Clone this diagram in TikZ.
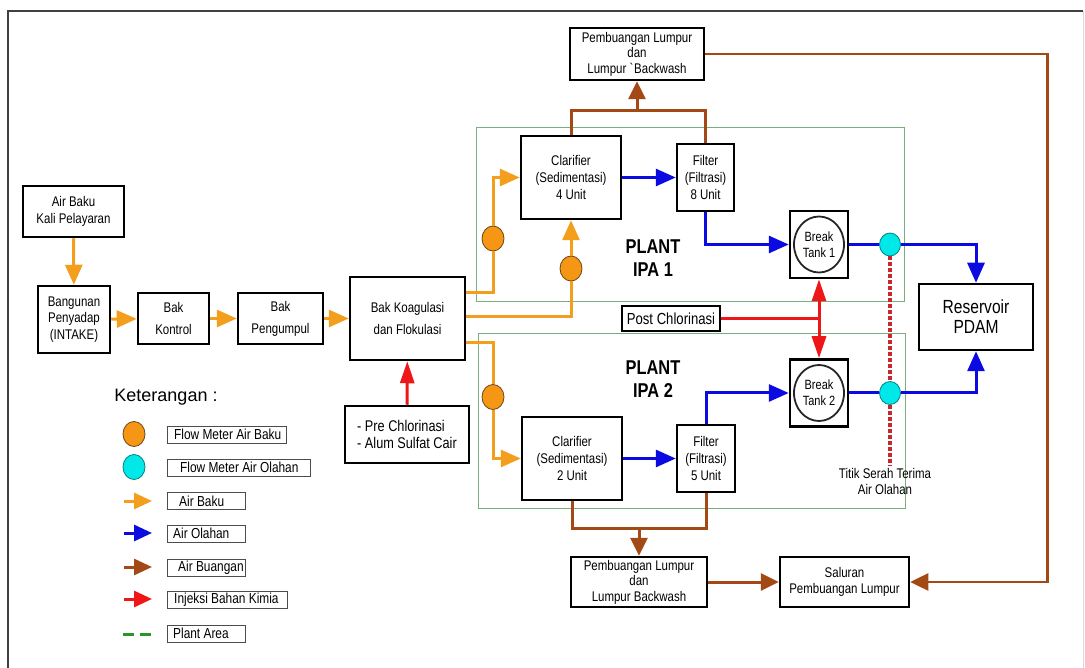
\documentclass[tikz,border=0pt]{standalone}
\usepackage{fontspec}
\setmainfont{Liberation Sans}
\newfontfamily\narrowfont{Liberation Sans}[FakeStretch=0.82]
\usetikzlibrary{positioning, arrows.meta, shapes.geometric, calc}

\definecolor{bakuc}{RGB}{243,158,28}
\definecolor{meterbakuc}{RGB}{245,150,20}
\definecolor{meterline}{RGB}{110,70,20}
\definecolor{olahc}{RGB}{10,10,225}
\definecolor{buangc}{RGB}{163,73,22}
\definecolor{kimiac}{RGB}{238,22,22}
\definecolor{serahc}{RGB}{200,40,45}
\definecolor{cyanc}{RGB}{0,232,232}
\definecolor{cyanline}{RGB}{0,130,130}
\definecolor{plantc}{RGB}{120,175,125}
\definecolor{legendgreen}{RGB}{40,150,40}

\begin{document}
\begin{tikzpicture}[
    x=1pt, y=-1pt,
    box/.style={draw, line width=2.5pt, inner sep=0pt, align=center,
                font=\narrowfont\fontsize{14}{16.7}\selectfont},
    tank/.style={box, minimum width=58, minimum height=67, font=\narrowfont\fontsize{13.4}{15.7}\selectfont,
                 path picture={\draw[line width=1.8pt, black!85] (path picture bounding box.center)
                               ellipse [x radius=25pt, y radius=28pt];}},
    meter/.style={ellipse, draw, line width=0.8pt, minimum width=22, minimum height=25, inner sep=0pt},
    meterbaku/.style={meter, draw=meterline, fill=meterbakuc},
    meterolah/.style={meter, draw=cyanline, fill=cyanc, minimum width=21, minimum height=23},
    baku/.style={line width=3pt, draw=bakuc, -{Triangle[length=20pt, width=17pt]}},
    olah/.style={line width=3pt, draw=olahc, -{Triangle[length=20pt, width=17pt]}},
    buang/.style={line width=3pt, draw=buangc, -{Triangle[length=18pt, width=17pt]}},
    kimia/.style={line width=3pt, draw=kimiac, -{Triangle[length=22pt, width=14pt]}},
    serah/.style={line width=3.2pt, draw=serahc, dash pattern=on 4pt off 2pt},
    plantarea/.style={draw=plantc, line width=1pt, inner sep=0pt},
    plantlbl/.style={font=\narrowfont\fontsize{20}{23}\selectfont\bfseries, align=center, inner sep=0pt},
    ketbox/.style={draw=black!70, line width=0.9pt, minimum height=17, inner sep=0pt},
    kettext/.style={font=\narrowfont\fontsize{14.5}{14}\selectfont, inner sep=0pt},
    frame/.style={draw=black!75, line width=2.5pt},
]
\useasboundingbox (0,0) rectangle (1085,668);

% frame
\draw[frame] (8,668) -- (8,11) -- (1083,11);
\draw[gray!30, line width=1pt] (1083,11) -- (1083,668);

% plant areas
\node[plantarea, minimum width=428, minimum height=174] (ipa1) at (690,215) {};
\node[plantarea, minimum width=427, minimum height=174] (ipa2) at (691.5,421) {};
\node[plantlbl] (lbl1) at (653,258.5) {PLANT\\IPA 1};
\node[plantlbl] (lbl2) at (653,379) {PLANT\\IPA 2};

% raw water line
\node[box, minimum width=101, minimum height=51] (src) at (73.5,211.5) {Air Baku\\Kali Pelayaran};
\node[box, minimum width=72, minimum height=67] (intake) at (74,319.5) {Bangunan\\Penyadap\\(INTAKE)};
\node[box, minimum width=71, minimum height=51, font=\narrowfont\fontsize{14}{22}\selectfont] (kontrol) at (173.5,318.5) {Bak\\Kontrol};
\node[box, minimum width=85, minimum height=51, font=\narrowfont\fontsize{14}{22}\selectfont] (kumpul) at (280.5,318.5) {Bak\\Pengumpul};
\node[box, minimum width=115, minimum height=83, font=\narrowfont\fontsize{14}{22}\selectfont] (koag) at (407.5,318.5) {Bak Koagulasi\\dan Flokulasi};
\node[box, minimum width=124, minimum height=57, align=left, font=\narrowfont\fontsize{15.5}{17}\selectfont] (pre) at (407,434.5) {- Pre Chlorinasi\\- Alum Sulfat Cair};

% plant units
\node[box, minimum width=100, minimum height=83] (clar1) at (571,177.5) {Clarifier\\(Sedimentasi)\\4 Unit};
\node[box, minimum width=57, minimum height=67] (filt1) at (705.5,177.5) {Filter\\(Filtrasi)\\8 Unit};
\node[box, minimum width=100, minimum height=83] (clar2) at (572,458.5) {Clarifier\\(Sedimentasi)\\2 Unit};
\node[box, minimum width=58, minimum height=67] (filt2) at (706,458.5) {Filter\\(Filtrasi)\\5 Unit};
\node[tank] (bt1) at (819,244.5) {Break\\Tank 1};
\node[tank] (bt2) at (819,393) {Break\\Tank 2};
\node[box, minimum width=98, minimum height=25, font=\narrowfont\fontsize{16}{15}\selectfont] (post) at (671,318.5) {Post Chlorinasi};
\node[box, minimum width=114, minimum height=66, font=\narrowfont\fontsize{19}{20}\selectfont] (res) at (976,317) {Reservoir\\PDAM};

% sludge
\node[box, minimum width=134, minimum height=52, font=\narrowfont\fontsize{14}{15.5}\selectfont] (lump1) at (637,54) {Pembuangan Lumpur\\dan\\Lumpur \textasciigrave Backwash};
\node[box, minimum width=136, minimum height=50, font=\narrowfont\fontsize{14}{15.5}\selectfont] (lump2) at (639,582) {Pembuangan Lumpur\\dan\\Lumpur Backwash};
\node[box, minimum width=129, minimum height=50] (sal) at (844.5,582) {Saluran\\Pembuangan Lumpur};

% meters
\node[meterbaku] (m1) at (493,238.5) {};
\node[meterbaku] (m2) at (571,268.5) {};
\node[meterbaku] (m3) at (493,397) {};

% handover point
\node[font=\narrowfont\fontsize{14}{16}\selectfont, align=center, inner sep=2pt] (titik) at (885,481) {Titik Serah Terima\\Air Olahan};
\node[meterolah] (c1) at (890,244.5) {};
\node[meterolah] (c2) at (890,393) {};
\draw[serah] (c1.south) -- (c2.north);
\draw[serah] (c2.south) -- (c1 |- titik.north);

% raw water flow
\draw[baku] (src) -- (intake);
\draw[baku] (intake) -- (kontrol);
\draw[baku] (kontrol) -- (kumpul);
\draw[baku] (kumpul) -- (koag);
\draw[baku] ([yshift=25.5pt]koag.east) -| (m1) |- (clar1);
\draw[baku] ([yshift=1.5pt]koag.east) -| (m2) -- (clar1);
\draw[baku] ([yshift=-24.5pt]koag.east) -| (m3) |- (clar2);

% treated water flow
\draw[olah] (clar1) -- (filt1);
\draw[olah] (clar2) -- (filt2);
\draw[olah] (filt1) |- (bt1);
\draw[olah] (filt2) |- (bt2);
\draw[olah] (bt1) -- (c1) -| (res);
\draw[olah] (bt2) -- (c2) -| (res);

% chemicals
\coordinate (pc) at (bt1 |- post);
\draw[kimia] (pre) -- (koag);
\draw[kimia, -] (post) -- (pc);
\draw[kimia] (pc) -- (bt1);
\draw[kimia] (pc) -- (bt2);

% waste flow
\draw[buang, -] (clar1.north) -- ++(0,-24) coordinate (a1) -| (filt1.north);
\draw[buang] (a1 -| lump1) -- (lump1.south);
\draw[buang, -] (clar2.south) -- ++(0,27) coordinate (a2) -| (filt2.south);
\draw[buang] (a2 -| lump2) -- (lump2.north);
\draw[buang] (lump2) -- (sal);
\draw[buang, line width=2.5pt] (lump1.east) -- ++(342,0) |- (sal.east);

% legend
\node[font=\fontsize{18}{20}\selectfont, inner sep=0pt] (ket) at (166,397) {Keterangan :};
\node[meterbaku] (lm1) at (134,434) {};
\node[meterolah, minimum width=22, minimum height=25] (lm2) at (134,467) {};
\foreach \clr/\yy [count=\i] in {bakuc/501, olahc/533, buangc/567, kimiac/599}{
    \coordinate (la\i) at (124,\yy);
    \coordinate (lb\i) at (152,\yy);
    \draw[line width=3pt, draw=\clr, -{Triangle[length=18pt, width=16pt]}] (la\i) -- (lb\i);
}
\coordinate (lg1) at (123,634);
\coordinate (lg2) at (153,634);
\draw[legendgreen, line width=3pt, dash pattern=on 11pt off 6pt] (lg1) -- (lg2);
\foreach \yy/\w/\dx/\txt [count=\i] in {434.5/119/7/Flow Meter Air Baku, 467.5/143/13/Flow Meter Air Olahan,
        501/78/12/Air Baku, 533.5/78/6/Air Olahan, 567.5/78/11/Air Buangan,
        599.5/120/7/Injeksi Bahan Kimia, 633.5/78/6/Plant Area}{
    \node[ketbox, minimum width=\w, anchor=west] (kb\i) at (167,\yy) {};
    \node[kettext, right={\dx pt} of kb\i.west] (kt\i) {\txt};
}

\end{tikzpicture}
\end{document}
